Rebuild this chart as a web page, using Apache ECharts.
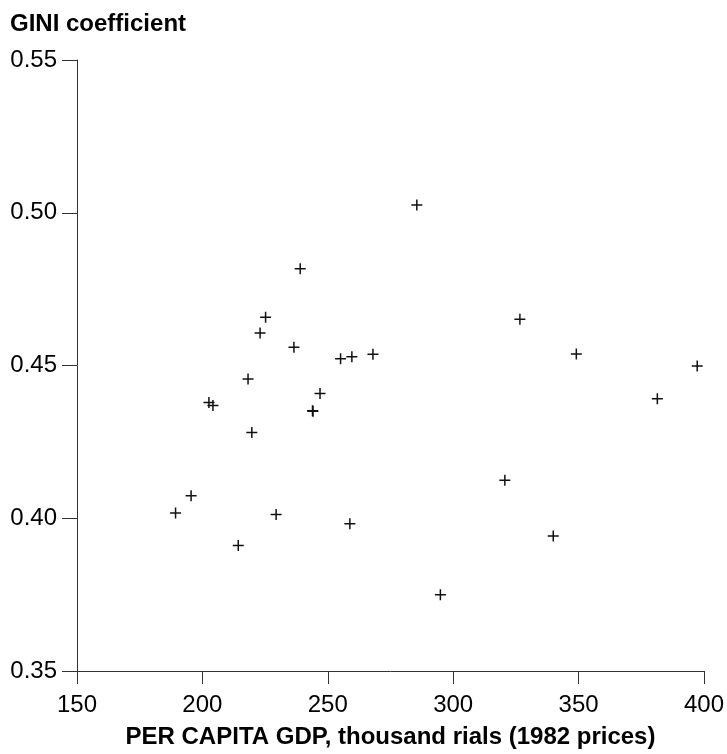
<!DOCTYPE html>
<html>
<head>
<meta charset="utf-8">
<script src="https://cdn.jsdelivr.net/npm/echarts@6/dist/echarts.min.js"></script>
<style>
html,body{margin:0;padding:0;background:#fff;overflow:hidden;}
#chart{position:absolute;left:0;top:0;width:727px;height:754px;}
</style>
</head>
<body>
<div id="chart"></div>
<script>
// Per capita GDP (thousand rials, 1982 prices)
const gdp = [189.3, 195.5, 202.6, 204.2, 214.3, 218.2, 219.7, 223.0, 225.2, 229.4, 236.5, 239.0, 243.9, 244.1, 246.9, 255.1, 259.6, 258.8, 268.0, 285.5, 294.9, 320.6, 326.6, 339.9, 349.1, 381.4, 397.3];
// GINI coefficient
const gini = [0.4017, 0.4074, 0.4379, 0.4369, 0.3911, 0.4456, 0.4281, 0.4606, 0.4658, 0.4012, 0.4560, 0.4817, 0.4352, 0.4350, 0.4408, 0.4522, 0.4529, 0.3982, 0.4537, 0.5025, 0.3750, 0.4124, 0.4651, 0.3942, 0.4538, 0.4391, 0.4498];
const xTicks = [150, 200, 250, 300, 350, 400];
const yTicks = [0.35, 0.40, 0.45, 0.50, 0.55];

const points = gdp.map((g, i) => [g, gini[i]]);
const font = '"Liberation Sans", Arial, Helvetica, sans-serif';

const chart = echarts.init(document.getElementById('chart'), null, {renderer: 'canvas', width: 727, height: 754});
chart.setOption({
  animation: false,
  backgroundColor: '#fff',
  title: {
    text: 'GINI coefficient',
    left: 10, top: 12, padding: 0,
    textStyle: {fontFamily: font, fontWeight: 'bold', fontSize: 24, color: '#000'}
  },
  grid: {left: 77, right: 21, top: 60, bottom: 79, containLabel: false},
  xAxis: {
    type: 'value',
    min: xTicks[0], max: xTicks[xTicks.length - 1], interval: 50,
    name: 'PER CAPITA GDP, thousand rials (1982 prices)',
    nameLocation: 'middle', nameGap: 54,
    nameTextStyle: {fontFamily: font, fontWeight: 'bold', fontSize: 24, color: '#000'},
    axisLine: {show: true, lineStyle: {color: '#333', width: 1}},
    axisTick: {show: true, length: 13, lineStyle: {color: '#333', width: 1}},
    axisLabel: {fontFamily: font, fontSize: 24, color: '#000', margin: 22, showMaxLabel: true, showMinLabel: true},
    splitLine: {show: false}
  },
  yAxis: {
    type: 'value',
    min: yTicks[0], max: yTicks[yTicks.length - 1], interval: 0.05,
    axisLine: {show: true, lineStyle: {color: '#333', width: 1}},
    axisTick: {show: true, length: 15, lineStyle: {color: '#333', width: 1}},
    axisLabel: {fontFamily: font, fontSize: 24, color: '#000', margin: 20,
      formatter: v => v.toFixed(2)},
    splitLine: {show: false}
  },
  series: [{
    type: 'scatter',
    data: points,
    symbol: 'path://M9.5,0H12.5V9.5H22V12.5H12.5V22H9.5V12.5H0V9.5H9.5Z',
    symbolSize: 11,
    itemStyle: {color: '#111', opacity: 1},
    silent: true
  }]
});
</script>
</body>
</html>
